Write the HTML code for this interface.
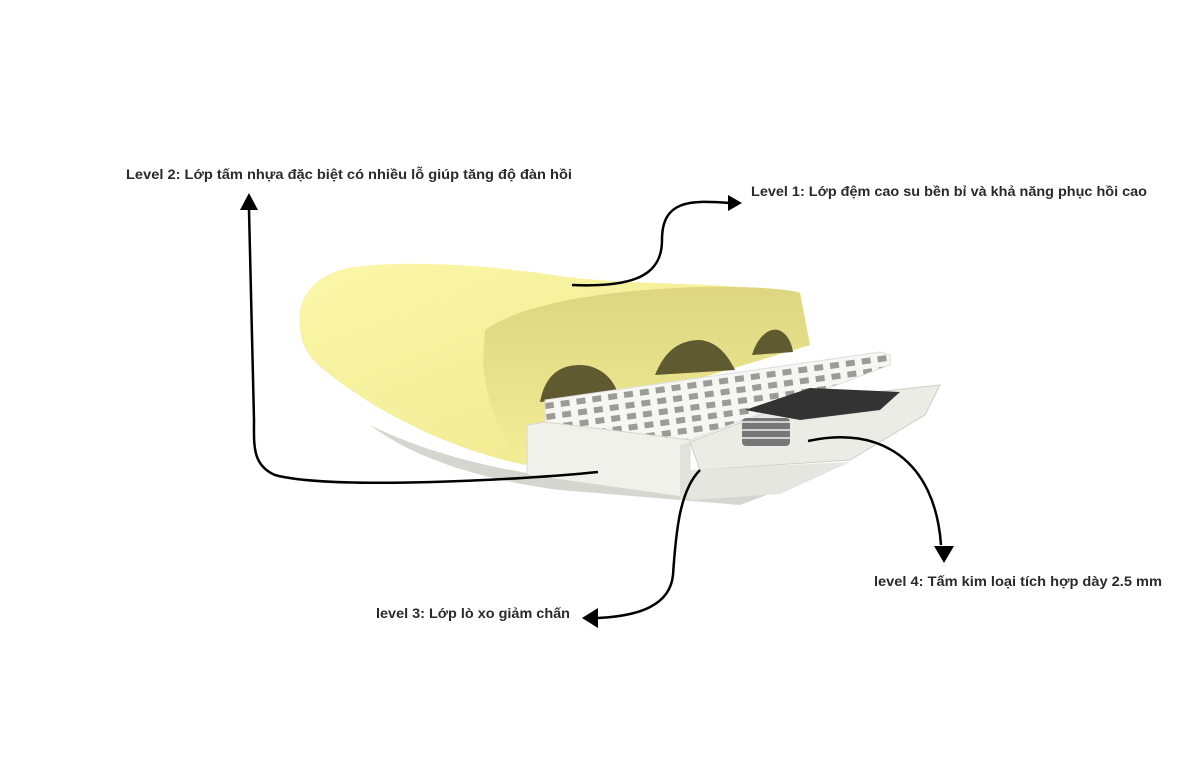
<!DOCTYPE html>
<html><head><meta charset="utf-8"><style>
html,body{margin:0;padding:0;background:#fff;width:1200px;height:770px;overflow:hidden}
text{font-family:"Liberation Sans",sans-serif;font-weight:bold;font-size:13.5px;fill:#2a2a2a}
</style></head><body>
<svg width="1200" height="770" viewBox="0 0 1200 770" xmlns="http://www.w3.org/2000/svg">
<defs>
<linearGradient id="fy" x1="0" y1="0" x2="1" y2="1">
<stop offset="0" stop-color="#fbf7a8"/><stop offset="1" stop-color="#eee78c"/></linearGradient>
<linearGradient id="ff" x1="0" y1="0" x2="0" y2="1">
<stop offset="0" stop-color="#ddd680"/><stop offset="1" stop-color="#f3ed98"/></linearGradient>
<pattern id="holes" width="16" height="11" patternUnits="userSpaceOnUse" patternTransform="rotate(-8)">
<rect width="16" height="11" fill="#f6f6f2"/><rect x="3" y="2" width="9" height="6" fill="#9c9c96"/></pattern>
</defs>
<!-- bottom grey shell -->
<path d="M370,425 C430,455 500,470 560,478 L680,488 L780,490 L740,505 L680,500 L560,490 C470,478 410,455 370,425Z" fill="#d6d6d0"/>
<!-- foam outer -->
<path d="M300,330 C296,300 310,280 340,270 C380,260 470,262 560,276 C620,285 720,282 798,292 L810,345 L545,425 L525,465 C440,447 365,405 318,365 C306,353 301,342 300,330Z" fill="url(#fy)"/>
<!-- foam front face -->
<path d="M485,330 C520,305 600,290 700,287 C760,286 795,290 800,293 L810,345 L545,425 L525,465 C500,440 485,400 483,360Z" fill="url(#ff)"/>
<!-- holes -->
<path d="M540,402 C545,375 560,365 580,365 C600,365 615,380 618,395Z" fill="#5f5a30"/>
<path d="M655,375 C665,350 680,340 700,340 C720,342 730,360 735,370Z" fill="#5f5a30"/>
<path d="M752,355 C758,335 770,328 778,330 C788,333 792,345 793,352Z" fill="#5f5a30"/>
<!-- grid plate -->
<path d="M545,400 L880,352 L890,355 L890,365 L690,440 L545,425Z" fill="url(#holes)" stroke="#ddd" stroke-width="1"/>
<!-- metal plate -->
<path d="M690,442 L800,400 L940,385 L925,415 L850,460 L700,470Z" fill="#ececE6" stroke="#cfcfc8"/>
<path d="M745,410 L810,388 L900,392 L880,410 L800,420Z" fill="#333"/>
<rect x="742" y="418" width="48" height="28" rx="4" fill="#777"/>
<path d="M742,422 l48,0 M742,430 l48,0 M742,438 l48,0" stroke="#eee" stroke-width="1.5"/>
<!-- white tray -->
<path d="M527,425 L545,422 L690,440 L690,498 L527,475Z" fill="#f1f1ec" stroke="#d6d6d0"/>
<path d="M680,445 L690,442 L690,498 L680,500Z" fill="#e2e2dc"/>
<path d="M690,470 L850,462 L780,494 L690,500Z" fill="#e6e6e0"/>
<!-- connectors -->
<g fill="none" stroke="#000" stroke-width="2.5">
<path d="M598,472 C520,480 330,490 275,475 C252,465 254,445 254,420 L249,210"/>
<path d="M572,285 C640,288 662,272 662,240 C662,200 690,200 730,203"/>
<path d="M700,470 C680,490 676,530 673,575 C670,605 640,616 598,618"/>
<path d="M808,441 C880,425 935,460 941,545"/>
</g>
<polygon points="249,193 240,210 258,210" fill="#000"/>
<polygon points="742,203 728,195 728,211" fill="#000"/>
<polygon points="582,618 598,608 598,628" fill="#000"/>
<polygon points="944,563 934,546 954,546" fill="#000"/>
<!-- labels -->
<text x="126" y="179" textLength="446" lengthAdjust="spacingAndGlyphs">Level 2: Lớp tấm nhựa đặc biệt có nhiều lỗ giúp tăng độ đàn hồi</text>
<text x="751" y="196" textLength="396" lengthAdjust="spacingAndGlyphs">Level 1: Lớp đệm cao su bền bỉ và khả năng phục hồi cao</text>
<text x="874" y="586" textLength="288" lengthAdjust="spacingAndGlyphs">level 4: Tấm kim loại tích hợp dày 2.5 mm</text>
<text x="376" y="618" textLength="194" lengthAdjust="spacingAndGlyphs">level 3: Lớp lò xo giảm chấn</text>
</svg>
</body></html>
